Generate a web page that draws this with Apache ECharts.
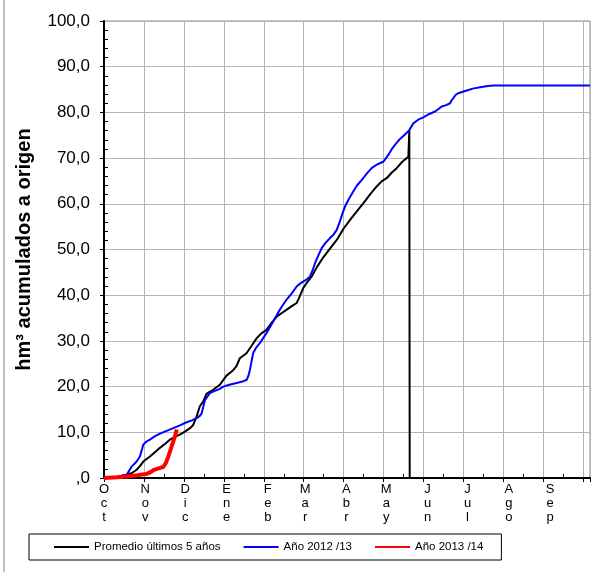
<!DOCTYPE html>
<html>
<head>
<meta charset="utf-8">
<script src="https://cdn.jsdelivr.net/npm/echarts@6/dist/echarts.min.js"></script>
<style>
  html, body { margin: 0; padding: 0; background: #fff; }
  #chart { width: 614px; height: 572px; }
</style>
</head>
<body>
<div id="chart"></div>
<script>
// Hydrological year, counted in days from 1 October
const monthNames = ['Oct', 'Nov', 'Dic', 'Ene', 'Feb', 'Mar', 'Abr', 'May', 'Jun', 'Jul', 'Ago', 'Sep'];
const monthStarts = [0, 31, 61, 92, 123, 151, 182, 212, 243, 273, 304, 335];
const yTicks = [0, 10, 20, 30, 40, 50, 60, 70, 80, 90, 100];

const seriesNames = ['Promedio últimos 5 años', 'Año 2012 /13', 'Año 2013 /14'];

// [day, hm³ accumulated]
const promedio = [
  [0, 0], [10, 0.3], [17, 0.7], [21, 1.1], [24.5, 1.8], [27, 2.6], [29.5, 3.6], [34.5, 4.7],
  [38, 5.6], [42, 6.6], [46, 7.5], [49.6, 8.4], [53, 9.0], [57, 9.5], [61, 10.2], [64.6, 10.9],
  [67, 11.6], [69.6, 13.5], [72, 15.7], [74.6, 16.8], [77, 18.4], [79.6, 18.9], [82, 19.3],
  [87, 20.4], [92, 22.4], [97, 23.6], [99.5, 24.5], [102, 26.2], [107, 27.3], [111, 29.0],
  [114.7, 30.6], [118, 31.6], [122, 32.4], [126, 34.0], [129.7, 35.3], [133, 36.0], [137, 36.8],
  [141, 37.6], [144.7, 38.3], [146.5, 39.4], [149.7, 41.6], [152, 42.6], [156, 44.1], [160, 46.2],
  [164.7, 48.3], [170, 50.3], [174.8, 52.1], [180, 54.6], [184.8, 56.5], [190, 58.4], [194.7, 60.1],
  [200, 62.1], [204.8, 63.8], [208.5, 64.9], [212.3, 65.6], [216, 66.8], [219.8, 67.8], [224, 69.2],
  [228.6, 70.3], [229.3, 76.1], [229.6, 0], [365, 0]
];

const anio1213 = [
  [0, 0], [10, 0.2], [17, 0.7], [20.8, 2.5], [24.5, 3.6], [27, 4.7], [29.5, 7.3], [32, 8.0],
  [34.5, 8.4], [38, 9.1], [42, 9.7], [47, 10.3], [52, 10.9], [57, 11.5], [62, 12.2], [66, 12.6],
  [69.6, 13.1], [72, 13.6], [73.4, 14.2], [75.9, 17.1], [79.6, 18.6], [82, 18.9], [87, 19.5],
  [89.6, 20.0], [94, 20.4], [99.7, 20.8], [104, 21.1], [107.2, 21.5], [108.5, 22.4], [109.6, 23.7],
  [111, 25.8], [112, 27.3], [114, 28.4], [117, 29.5], [122, 31.7], [127, 34.2], [132, 36.8],
  [134.5, 37.9], [137, 39.0], [141, 40.4], [144.7, 41.9], [148, 42.7], [152, 43.4], [154.7, 44.1],
  [156.5, 45.3], [158.5, 47.0], [161, 48.7], [163.5, 50.3], [166.5, 51.5], [169.7, 52.5],
  [172.5, 53.3], [174.8, 54.3], [177, 56.0], [179, 57.8], [181, 59.4], [184, 61.1], [187.2, 62.7],
  [190, 64.0], [193.5, 65.2], [197, 66.5], [201, 67.8], [205, 68.6], [209.8, 69.2], [211.5, 69.9],
  [213.5, 70.7], [216, 71.9], [218.5, 72.9], [222.3, 74.2], [225, 74.9], [229, 76.0], [232.3, 77.6],
  [236, 78.4], [239.8, 78.9], [244, 79.6], [248.6, 80.2], [251, 80.7], [253.6, 81.3], [257, 81.6],
  [259.9, 82.0], [261, 82.6], [262.3, 83.1], [264, 83.8], [266.1, 84.2], [272.4, 84.8], [277, 85.2],
  [282.4, 85.5], [287, 85.7], [292.4, 85.9], [305, 85.9], [365, 85.9]
];

const anio1314 = [
  [0, 0], [10, 0.15], [17, 0.35], [25, 0.6], [32, 0.9], [35, 1.3], [37, 1.7], [41, 2.1],
  [44.5, 2.4], [46.5, 3.3], [48.3, 4.7], [50.8, 6.9], [53.3, 9.1], [54.6, 10.6]
];

const FONT = 'Arial, "Liberation Sans", sans-serif';
const GRID_GRAY = '#b3b3b3';

function yLabel(v) {
  return v === 0 ? ',0' : v.toFixed(1).replace('.', ',');
}
function monthLabel(v) {
  const i = monthStarts.indexOf(Math.round(v));
  return i < 0 ? '' : monthNames[i].split('').join('\n');
}

const chart = echarts.init(document.getElementById('chart'), null, { renderer: 'canvas' });

chart.setOption({
  animation: false,
  backgroundColor: '#fff',
  textStyle: { fontFamily: FONT, color: '#000' },
  grid: {
    left: 104, top: 21, right: 24, bottom: 94,
    show: true, borderColor: '#8c8c8c', borderWidth: 1, backgroundColor: 'transparent'
  },
  graphic: [{
    type: 'line', shape: { x1: 4, y1: 0, x2: 4, y2: 572 },
    style: { stroke: '#7f7f7f', lineWidth: 1 }, silent: true
  }],
  legend: {
    left: 29, top: 534,
    orient: 'horizontal',
    padding: [7, 18, 7, 24],
    itemWidth: 35, itemHeight: 14, itemGap: 22,
    borderColor: '#000', borderWidth: 1,
    itemStyle: { opacity: 0 },
    textStyle: { fontFamily: FONT, fontSize: 11.5, color: '#000' },
    data: seriesNames
  },
  xAxis: [{
    type: 'value', min: 0, max: 365, interval: 30,
    axisLine: { show: true, onZero: false, lineStyle: { color: '#000', width: 2 } },
    axisTick: { show: true, inside: false, length: 4, lineStyle: { color: '#000', width: 1 } },
    splitLine: { show: true, lineStyle: { color: GRID_GRAY, width: 1 } },
    axisLabel: {
      customValues: monthStarts,
      formatter: monthLabel,
      fontFamily: FONT, fontSize: 13, lineHeight: 14, color: '#000', margin: 4,
      align: 'center', verticalAlign: 'top'
    }
  }, {
    type: 'value', min: 0, max: 365, interval: 30, position: 'bottom',
    axisLine: { show: false },
    axisTick: { show: false, inside: true },
    minorTick: { show: true, splitNumber: 2, length: 4, lineStyle: { color: '#000', width: 1 } },
    splitLine: { show: false },
    axisLabel: { show: false }
  }],
  yAxis: [{
    type: 'value', min: 0, max: 100, interval: 10,
    axisLine: { show: true, onZero: false, lineStyle: { color: '#000', width: 2 } },
    axisTick: { show: true, inside: false, length: 4, lineStyle: { color: '#000', width: 1 } },
    splitLine: { show: true, lineStyle: { color: GRID_GRAY, width: 1 } },
    axisLabel: {
      formatter: yLabel, fontFamily: FONT, fontSize: 17, color: '#000', margin: 14,
      customValues: yTicks
    },
    name: 'hm³ acumulados a origen',
    nameLocation: 'middle',
    nameGap: 70,
    nameTextStyle: { fontFamily: FONT, fontSize: 20, fontWeight: 'bold', color: '#000' }
  }, {
    type: 'value', min: 0, max: 100, interval: 10, position: 'left',
    axisLine: { show: false },
    axisTick: { show: false, inside: true },
    minorTick: { show: true, splitNumber: 5, length: 4, lineStyle: { color: '#000', width: 1 } },
    splitLine: { show: false },
    axisLabel: { show: false }
  }],
  series: [{
    name: seriesNames[0], type: 'line', data: promedio,
    xAxisIndex: 0, yAxisIndex: 0,
    symbol: 'none', showSymbol: false,
    lineStyle: { color: '#000', width: 2 }, itemStyle: { color: '#000' }, z: 3
  }, {
    name: seriesNames[1], type: 'line', data: anio1213,
    xAxisIndex: 0, yAxisIndex: 0,
    symbol: 'none', showSymbol: false,
    lineStyle: { color: '#0000ff', width: 2 }, itemStyle: { color: '#0000ff' }, z: 4
  }, {
    name: seriesNames[2], type: 'line', data: anio1314,
    xAxisIndex: 0, yAxisIndex: 0,
    symbol: 'none', showSymbol: false,
    lineStyle: { color: '#ff0000', width: 4 }, itemStyle: { color: '#ff0000' }, z: 5
  }]
});
</script>
</body>
</html>
